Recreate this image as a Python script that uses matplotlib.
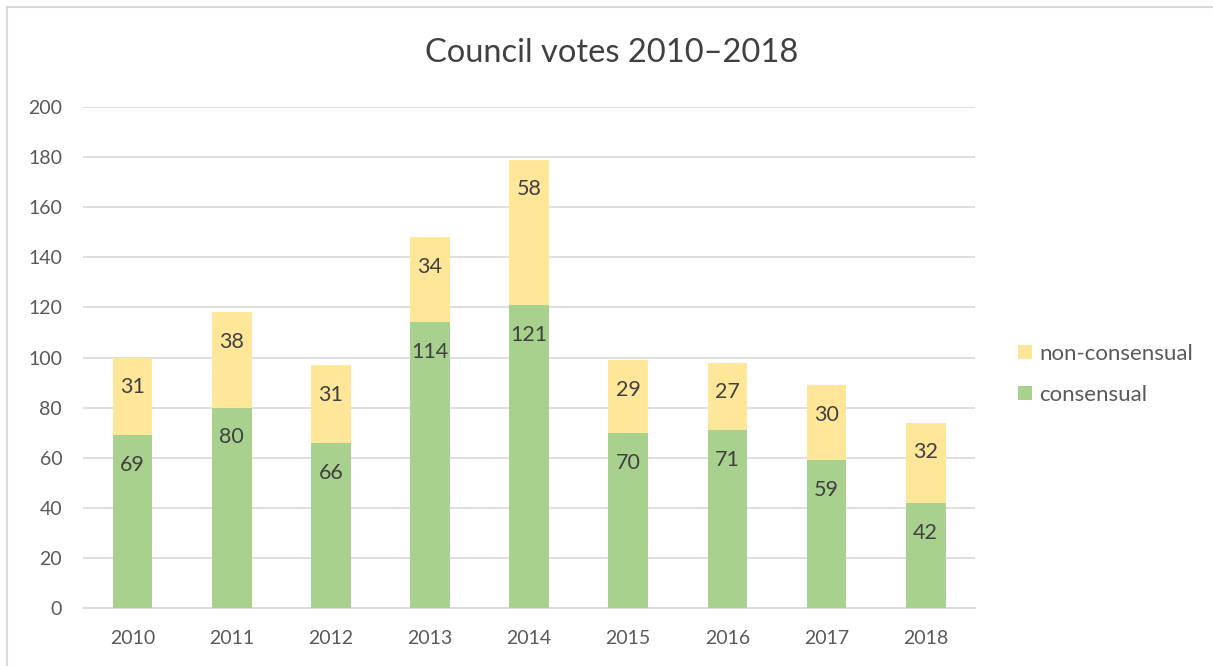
import matplotlib.pyplot as plt
from matplotlib.patches import Rectangle

# data
years = ["2010", "2011", "2012", "2013", "2014", "2015", "2016", "2017", "2018"]
consensual = [69, 80, 66, 114, 121, 70, 71, 59, 42]
non_consensual = [31, 38, 31, 34, 58, 29, 27, 30, 32]
y_ticks = [0, 20, 40, 60, 80, 100, 120, 140, 160, 180, 200]

green = "#A9D18E"
yellow = "#FFE699"
tick_col = "#595959"
label_col = "#404040"
grid_col = "#D9D9D9"

plt.rcParams["font.family"] = ["Lato", "DejaVu Sans"]

fig = plt.figure(figsize=(12.13, 6.66), dpi=100)
ax = fig.add_axes([0.0684, 0.0871, 0.7356, 0.7522])

x = list(range(len(years)))
b1 = ax.bar(x, consensual, width=0.4, color=green, label="consensual", zorder=3)
b2 = ax.bar(x, non_consensual, width=0.4, bottom=consensual, color=yellow,
            label="non-consensual", zorder=3)

# labels sit just inside the top of each segment (Excel "inside end")
for i in x:
    ax.annotate(str(consensual[i]), (i, consensual[i]), xytext=(0, -21.5),
                textcoords="offset points", ha="center", va="center",
                fontsize=15.5, color=label_col, zorder=4)
    top = consensual[i] + non_consensual[i]
    ax.annotate(str(non_consensual[i]), (i, top), xytext=(0, -21.5),
                textcoords="offset points", ha="center", va="center",
                fontsize=15.5, color=label_col, zorder=4)

ax.set_xlim(-0.5, len(years) - 0.5)
ax.set_ylim(0, 200)
ax.set_yticks(y_ticks)
ax.set_xticks(x)
ax.set_xticklabels(years)
ax.tick_params(axis="both", length=0, labelsize=14, colors=tick_col)
ax.tick_params(axis="y", pad=15)
ax.tick_params(axis="x", pad=16)
ax.yaxis.grid(True, color=grid_col, linewidth=1.2, zorder=0)
for s in ["top", "right", "left"]:
    ax.spines[s].set_visible(False)
ax.spines["bottom"].set_color(grid_col)
ax.spines["bottom"].set_linewidth(1.2)

fig.text(0.504, 0.921, "Council votes 2010\u20132018", ha="center", va="center",
         fontsize=23.5, color=label_col)

handles, labels = ax.get_legend_handles_labels()
leg = fig.legend(handles[::-1], labels[::-1], loc="center left",
                 bbox_to_anchor=(0.823, 0.438), frameon=False, fontsize=16,
                 handlelength=0.6, handleheight=0.6, handletextpad=0.35,
                 labelspacing=0.95, labelcolor=tick_col)

# chart border (only left/top visible in the reference)
fig.patches.append(Rectangle((7 / 1213, -0.05), 1.1, 1 - 7.5 / 666 + 0.05,
                             transform=fig.transFigure, fill=False,
                             edgecolor=grid_col, linewidth=1.5))

fig.savefig("out.png", dpi=100)
